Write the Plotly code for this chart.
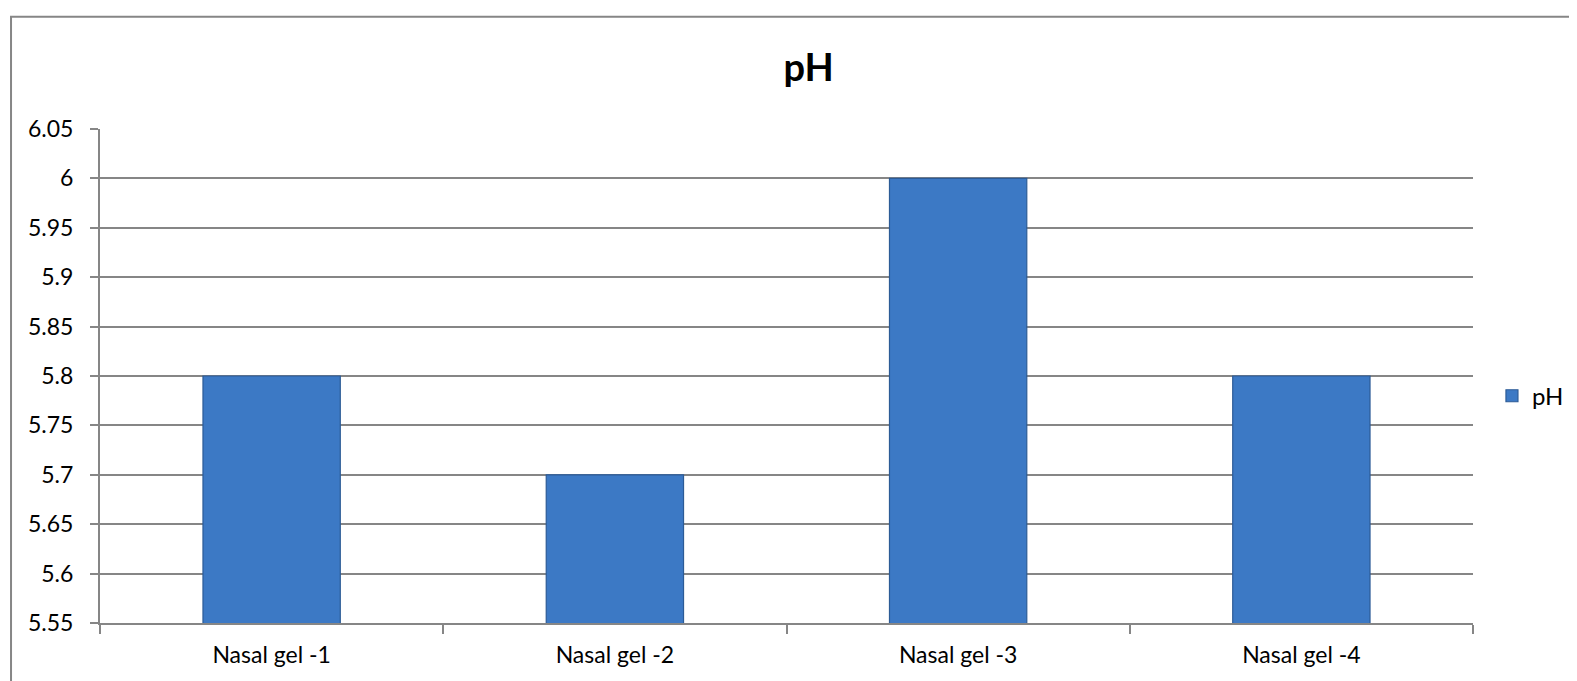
import plotly.graph_objects as go

categories = ["Nasal gel -1", "Nasal gel -2", "Nasal gel -3", "Nasal gel -4"]
ph_values = [5.8, 5.7, 6.0, 5.8]
y_tick_vals = [5.55, 5.6, 5.65, 5.7, 5.75, 5.8, 5.85, 5.9, 5.95, 6.0, 6.05]
y_tick_text = ["5.55", "5.6", "5.65", "5.7", "5.75", "5.8", "5.85", "5.9", "5.95", "6", "6.05"]

GRID = "#868686"
FONT = "Lato"

fig = go.Figure()
fig.add_trace(go.Bar(
    x=categories, y=ph_values, name="pH",
    marker=dict(color="#3c79c5", line=dict(color="#2c5b96", width=1.2)),
))

fig.update_layout(
    width=1577, height=681,
    paper_bgcolor="white", plot_bgcolor="white",
    margin=dict(l=92, r=112, t=121, b=66, autoexpand=False),
    font=dict(family=FONT, size=23, color="#000000"),
    title=dict(text="<b>pH</b>", x=0.5077, xanchor="center", y=0.913, yanchor="middle",
               font=dict(family=FONT, size=38, color="#000000")),
    bargap=0.6,
    showlegend=True,
    legend=dict(xref="container", yref="container", x=0.941, xanchor="left",
                y=0.43, yanchor="middle",
                font=dict(family=FONT, size=24), bgcolor="rgba(0,0,0,0)",
                itemwidth=30),
    xaxis=dict(type="category", showline=True, linecolor=GRID, linewidth=2,
               ticks="outside", tickson="boundaries", ticklen=9, tickcolor=GRID, tickwidth=2,
               showgrid=False, tickfont=dict(family=FONT, size=23),
               ticklabelstandoff=10, automargin=False),
    yaxis=dict(range=[5.55, 6.05], tickvals=y_tick_vals, ticktext=y_tick_text,
               showline=True, linecolor=GRID, linewidth=2,
               ticks="outside", ticklen=8, tickcolor=GRID, tickwidth=2,
               showgrid=True, gridcolor=GRID, gridwidth=2, zeroline=False,
               tickfont=dict(family=FONT, size=23),
               ticklabelstandoff=12, automargin=False),
    shapes=[dict(type="rect", xref="paper", yref="paper",
                 x0=-0.0648, x1=1.09, y0=-0.16, y1=1.227,
                 line=dict(color=GRID, width=2), fillcolor="rgba(0,0,0,0)", layer="below")],
)

fig.write_html("out.html")
